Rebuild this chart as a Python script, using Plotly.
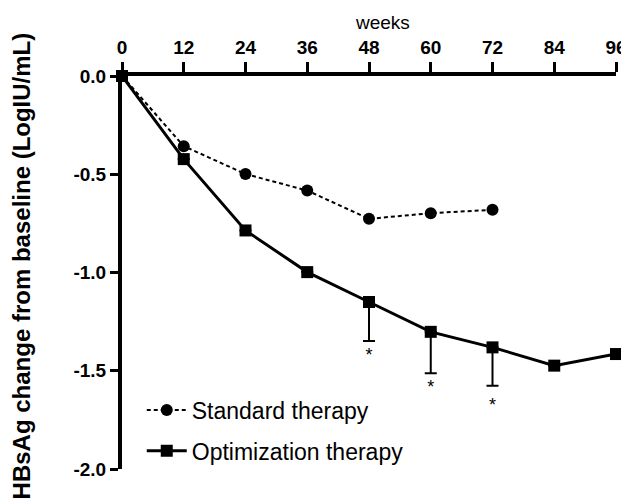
import plotly.graph_objects as go

weeks_std = [0, 12, 24, 36, 48, 60, 72]
std_change = [0.0, -0.357, -0.499, -0.583, -0.727, -0.698, -0.681]

weeks_opt = [0, 12, 24, 36, 48, 60, 72, 84, 96]
opt_change = [0.0, -0.423, -0.786, -0.998, -1.15, -1.302, -1.381, -1.474, -1.415]
opt_err_minus = [None, None, None, None, 0.198, 0.211, 0.195, None, None]

star_weeks = [48, 60, 72]
star_y = [-1.425, -1.59, -1.68]

x_ticks = [0, 12, 24, 36, 48, 60, 72, 84, 96]
y_ticks = [0.0, -0.5, -1.0, -1.5, -2.0]
y_ticktext = ["0.0", "-0.5", "-1.0", "-1.5", "-2.0"]

FONT = "Liberation Sans, Arial, Helvetica, sans-serif"

fig = go.Figure()

fig.add_trace(go.Scatter(
    x=weeks_std, y=std_change, mode="lines+markers", name="Standard therapy",
    line=dict(color="black", width=2, dash="4px,3px"),
    marker=dict(symbol="circle", size=12, color="black"),
    cliponaxis=False, legendgroup="a",
))

fig.add_trace(go.Scatter(
    x=weeks_opt, y=opt_change, mode="lines+markers", name="Optimization therapy",
    line=dict(color="black", width=3),
    marker=dict(symbol="square", size=12, color="black"),
    error_y=dict(type="data", symmetric=False,
                 array=[0 if v is not None else None for v in opt_err_minus],
                 arrayminus=opt_err_minus, color="black", thickness=2, width=6),
    cliponaxis=False, legendgroup="b",
))

fig.add_trace(go.Scatter(
    x=star_weeks, y=star_y, mode="text", text=["*"] * len(star_weeks),
    textfont=dict(family=FONT, size=18, color="black"),
    showlegend=False, cliponaxis=False, hoverinfo="skip",
))

fig.update_layout(
    width=621, height=490,
    margin=dict(l=114, r=12.5, t=67.5, b=29, autoexpand=False),
    paper_bgcolor="white", plot_bgcolor="white",
    font=dict(family=FONT, color="black"),
    showlegend=True,
    legend=dict(x=0.04, y=0.205, xanchor="left", yanchor="top",
                font=dict(family=FONT, size=23, color="black"),
                bgcolor="rgba(0,0,0,0)", tracegroupgap=8, traceorder="grouped",
                itemwidth=40),
    xaxis=dict(side="top", range=[0, 96], tickvals=x_ticks,
               showline=True, linewidth=4, linecolor="black",
               ticks="outside", ticklen=10, tickwidth=3, tickcolor="black",
               showgrid=False, zeroline=False,
               tickfont=dict(family=FONT, size=19, color="black", weight="bold")),
    yaxis=dict(range=[-2.0, 0.0], tickvals=y_ticks, ticktext=y_ticktext,
               showline=True, linewidth=4, linecolor="black",
               ticks="outside", ticklen=8, tickwidth=3, tickcolor="black",
               showgrid=False, zeroline=False,
               tickfont=dict(family=FONT, size=19, color="black", weight="bold")),
    annotations=[
        dict(text="weeks", xref="paper", yref="paper", x=0.528, y=1.136,
             xanchor="center", yanchor="middle", showarrow=False,
             font=dict(family=FONT, size=19, color="black")),
        dict(text="<b>HBsAg change from baseline (LogIU/mL)</b>", xref="paper", yref="paper",
             x=-0.204, y=0.516, xanchor="center", yanchor="middle", textangle=-90,
             showarrow=False, font=dict(family=FONT, size=24, color="black")),
    ],
)

fig.write_html("out.html")
